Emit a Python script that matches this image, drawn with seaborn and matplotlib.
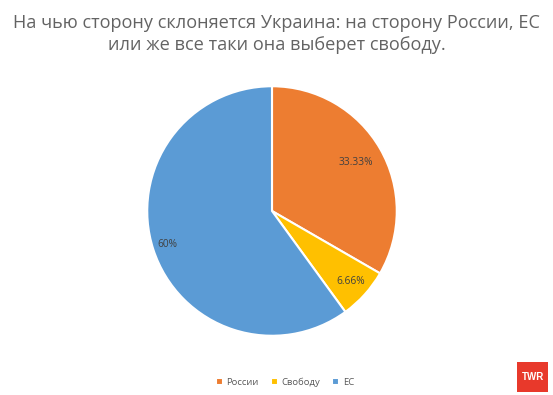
import matplotlib
matplotlib.use("Agg")
import matplotlib.pyplot as plt
import seaborn as sns
import numpy as np
from matplotlib.patches import Rectangle

categories = ["России", "Свободу", "ЕС"]
values = [33.33, 6.66, 60.0]
pct_labels = ["33.33%", "6.66%", "60%"]
colors = ["#ED7D31", "#FFC000", "#5B9BD5"]
title = "На чью сторону склоняется Украина: на сторону России, ЕС\nили же все таки она выберет свободу."

sns.set_theme(style="white")
plt.rcParams['font.family'] = ['Open Sans', 'DejaVu Sans']

fig = plt.figure(figsize=(5.53, 3.95), dpi=100)
fig.patch.set_facecolor("white")

# pie axes: centre ~ (272, 211) px, radius ~125 px
ax = fig.add_axes([(272 - 126) / 553, 1 - (211 + 126) / 395, 252 / 553, 252 / 395])
wedges, texts = ax.pie(values, colors=colors, startangle=90, counterclock=False,
                       wedgeprops=dict(edgecolor="white", linewidth=1.5))
dists = [0.78, 0.85, 0.88]
for w, lab, d in zip(wedges, pct_labels, dists):
    ang = np.deg2rad((w.theta1 + w.theta2) / 2)
    ax.text(d * np.cos(ang), d * np.sin(ang), lab, ha="center", va="center",
            fontsize=7.3, color="#404040")
ax.set_aspect("equal")
ax.set_xlim(-1.01, 1.01)
ax.set_ylim(-1.01, 1.01)

fig.text(0.5, 1 - 34 / 395, title, ha="center", va="center", fontsize=13.1,
         color="#636363", linespacing=1.3)

leg = fig.legend(wedges, categories, loc="center", bbox_to_anchor=(285 / 553, 1 - 382 / 395),
                 ncol=3, frameon=False, fontsize=6.8, handlelength=0.7, handleheight=0.7,
                 columnspacing=1.3, handletextpad=0.4)
for t in leg.get_texts():
    t.set_color("#595959")

# TWR badge
fig.patches.append(Rectangle((517 / 553, 1 - 392 / 395), 31 / 553, 30 / 395,
                             transform=fig.transFigure, facecolor="#E8392B",
                             edgecolor="none"))
fig.text(532.5 / 553, 1 - 377 / 395, "TWR", ha="center", va="center", color="white",
         fontsize=7, fontweight="bold", family="Liberation Sans")

fig.savefig("out.png", dpi=100)
